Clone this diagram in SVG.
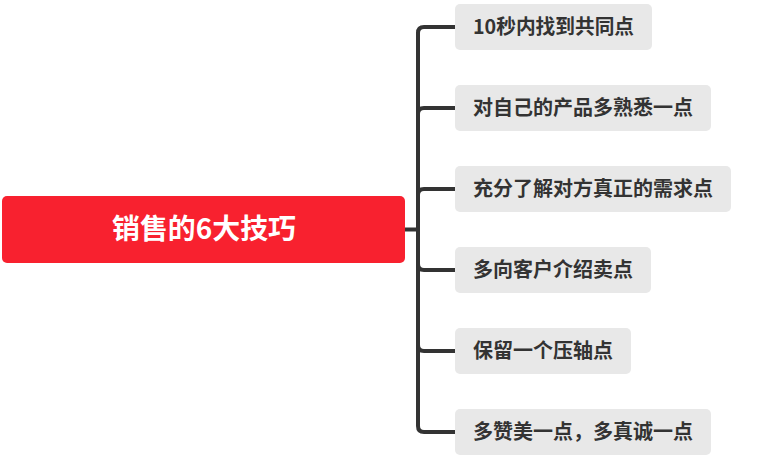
<svg xmlns="http://www.w3.org/2000/svg" width="766" height="461" viewBox="0 0 766 461">
<style>
.bg{fill:#ffffff}
.leaf rect{fill:#e8e8e8}
.leaf text{font-family:"Noto Sans CJK SC","Microsoft YaHei",sans-serif;font-weight:bold;font-size:20px;fill:#333333}
.root rect{fill:#f8212f}
.root text{font-family:"Noto Sans CJK SC",sans-serif;font-weight:bold;font-size:28px;fill:#ffffff}
.conn path{fill:none;stroke:#333333;stroke-width:4;stroke-linecap:butt}
</style>
<rect class="bg" width="766" height="461"/>
<g id="connectors" class="conn">
<path d="M405,229.5 H418"/>
<path d="M455,27 H424 Q418,27 418,33 V426 Q418,432 424,432 H455"/>
<path d="M418,114 Q418,108 424,108 H455"/>
<path d="M418,195 Q418,189 424,189 H455"/>
<path d="M418,264 Q418,270 424,270 H455"/>
<path d="M418,345 Q418,351 424,351 H455"/>
</g>
<g id="root" class="root">
<rect x="2" y="196" width="403" height="67" rx="5"/>
<text x="204" y="239" text-anchor="middle" textLength="184" lengthAdjust="spacingAndGlyphs">销售的6大技巧</text>
</g>
<g id="n1" class="leaf">
<rect x="455" y="4" width="197" height="46" rx="5"/>
<text x="473" y="34" textLength="161" lengthAdjust="spacingAndGlyphs">10秒内找到共同点</text>
</g>
<g id="n2" class="leaf">
<rect x="455" y="85" width="256" height="46" rx="5"/>
<text x="473" y="115" textLength="220" lengthAdjust="spacingAndGlyphs">对自己的产品多熟悉一点</text>
</g>
<g id="n3" class="leaf">
<rect x="455" y="166" width="276" height="46" rx="5"/>
<text x="473" y="196" textLength="240" lengthAdjust="spacingAndGlyphs">充分了解对方真正的需求点</text>
</g>
<g id="n4" class="leaf">
<rect x="455" y="247" width="196" height="46" rx="5"/>
<text x="473" y="277" textLength="160" lengthAdjust="spacingAndGlyphs">多向客户介绍卖点</text>
</g>
<g id="n5" class="leaf">
<rect x="455" y="328" width="176" height="46" rx="5"/>
<text x="473" y="358" textLength="140" lengthAdjust="spacingAndGlyphs">保留一个压轴点</text>
</g>
<g id="n6" class="leaf">
<rect x="455" y="409" width="256" height="46" rx="5"/>
<text x="473" y="439" textLength="220" lengthAdjust="spacingAndGlyphs">多赞美一点，多真诚一点</text>
</g>
</svg>
